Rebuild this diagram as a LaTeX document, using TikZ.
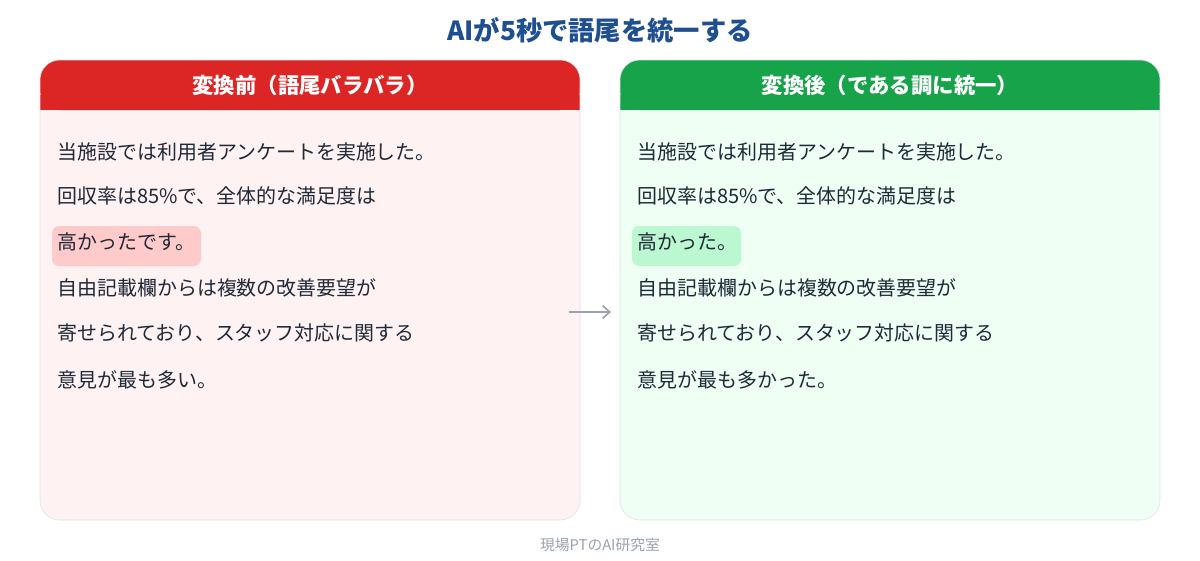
\documentclass[tikz,border=0pt]{standalone}
\usepackage{fontspec}
\setmainfont{Noto Sans CJK JP}
\usetikzlibrary{positioning,arrows.meta}
\definecolor{titleblue}{HTML}{1E4F91}
\definecolor{beforered}{HTML}{DC2626}
\definecolor{beforebg}{HTML}{FFF2F2}
\definecolor{beforemark}{HTML}{FECACA}
\definecolor{aftergreen}{HTML}{16A34A}
\definecolor{afterbg}{HTML}{F0FFF4}
\definecolor{aftermark}{HTML}{BBF7D0}
\definecolor{panelline}{HTML}{DCE3EA}
\definecolor{textgray}{HTML}{1F2937}
\definecolor{footgray}{HTML}{9CA3AF}
\tikzset{
  linetext/.style={anchor=west,inner sep=0pt,font=\fontsize{14.2}{16}\selectfont,text=textgray},
  headtext/.style={text=white,font=\fontsize{15.2}{18}\selectfont\bfseries}
}
\begin{document}
\begin{tikzpicture}[x=0.025cm,y=-0.025cm]
      \useasboundingbox[fill=white] (0,0) rectangle (1200,560);

      \node[text=titleblue,font=\fontsize{18.7}{22}\selectfont\bfseries] (title) at (600,30) {AIが5秒で語尾を統一する};

      % panels
      \fill[beforebg,rounded corners=14] (40,60) rectangle (580,520);
      \fill[beforered,rounded corners=14] (40,60) rectangle (580,110);
      \fill[beforered] (40,95) rectangle (580,110);
      \draw[panelline,rounded corners=14] (40,60) rectangle (580,520);
      \node[headtext] (hl) at (310,85) {変換前（語尾バラバラ）};

      \fill[afterbg,rounded corners=14] (620,60) rectangle (1160,520);
      \fill[aftergreen,rounded corners=14] (620,60) rectangle (1160,110);
      \fill[aftergreen] (620,95) rectangle (1160,110);
      \draw[panelline,rounded corners=14] (620,60) rectangle (1160,520);
      \node[headtext] (hr) at (890,85) {変換後（である調に統一）};

      % highlights
      \fill[beforemark,rounded corners=5] (52,226) rectangle (201,266);
      \fill[aftermark,rounded corners=5] (632,226) rectangle (741,266);

      % before text
      \node[linetext] (l1) at (57,152) {当施設では利用者アンケートを実施した。};
      \node[linetext] (l2) at (57,196) {回収率は85\%で、全体的な満足度は};
      \node[linetext] (l3) at (57,242) {高かったです。};
      \node[linetext] (l4) at (57,288) {自由記載欄からは複数の改善要望が};
      \node[linetext] (l5) at (57,333) {寄せられており、スタッフ対応に関する};
      \node[linetext] (l6) at (57,380) {意見が最も多い。};

      % after text
      \node[linetext] (r1) at (637,152) {当施設では利用者アンケートを実施した。};
      \node[linetext] (r2) at (637,196) {回収率は85\%で、全体的な満足度は};
      \node[linetext] (r3) at (637,242) {高かった。};
      \node[linetext] (r4) at (637,288) {自由記載欄からは複数の改善要望が};
      \node[linetext] (r5) at (637,333) {寄せられており、スタッフ対応に関する};
      \node[linetext] (r6) at (637,380) {意見が最も多かった。};

      % arrow
      \coordinate (a0) at (569,312);
      \coordinate (a1) at (611,312);
      \draw[footgray,line width=1.2pt,-{Straight Barb[length=5pt,width=9pt]}] (a0) -- (a1);

      \node[text=footgray,font=\fontsize{10.5}{12}\selectfont] (foot) at (600,545) {現場PTのAI研究室};
    \end{tikzpicture}
\end{document}
